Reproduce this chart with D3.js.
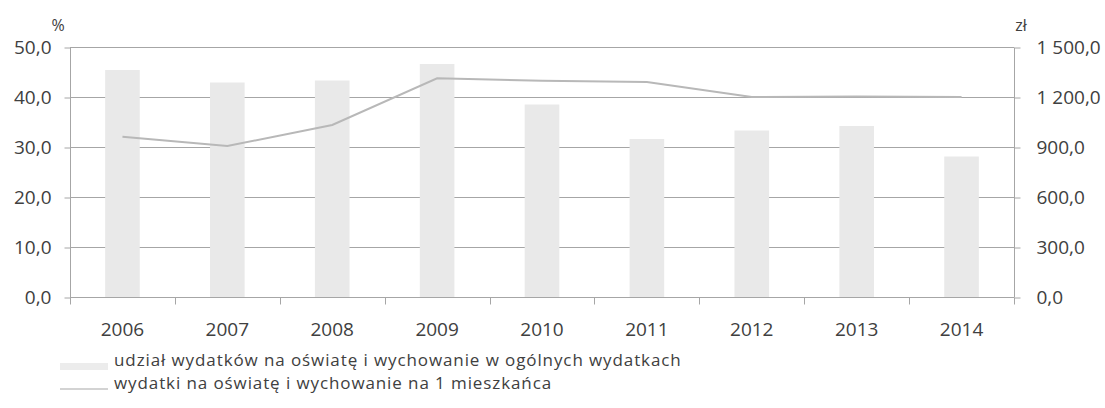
<!DOCTYPE html>
<html>
<head>
<meta charset="utf-8">
<script src="https://cdn.jsdelivr.net/npm/d3@7"></script>
<style>
  html, body { margin: 0; padding: 0; background: #fff; }
  svg text { font-family: 'Open Sans', 'Noto Sans', sans-serif; fill: #404040; }
</style>
</head>
<body>
<svg id="chart" width="1105" height="408"></svg>
<script>
'use strict';

var years = ['2006', '2007', '2008', '2009', '2010', '2011', '2012', '2013', '2014'];
var shareValues = [45.4, 42.9, 43.3, 46.6, 38.5, 31.6, 33.3, 34.2, 28.1];
var perCapitaValues = [961, 906, 1032, 1312, 1297, 1290, 1200, 1203, 1200];
var leftTicks = [0, 10, 20, 30, 40, 50];
var rightTicks = [0, 300, 600, 900, 1200, 1500];
var legendLabels = [
  'udział wydatków na oświatę i wychowanie w ogólnych wydatkach',
  'wydatki na oświatę i wychowanie na 1 mieszkańca'
];

(function() {
  var svg = d3.select('#chart');
  var plotLeft = 70, plotRight = 1014, plotTop = 47, plotBottom = 297;

  var x = d3.scaleBand().domain(years).range([plotLeft, plotRight]).paddingInner(0.67).paddingOuter(0.335);
  var xCat = d3.scaleBand().domain(years).range([plotLeft, plotRight]);
  var yLeft = d3.scaleLinear().domain([0, 50]).range([plotBottom, plotTop]);
  var yRight = d3.scaleLinear().domain([0, 1500]).range([plotBottom, plotTop]);

  function fmt(v) {
    // polish style: space as thousands separator, comma decimal
    var s = d3.format(',.1f')(v);
    return s.replace(/,/g, ' ').replace('.', ',');
  }

  // gridlines
  svg.append('g').selectAll('line').data(leftTicks.slice(1)).enter().append('line')
    .attr('x1', plotLeft).attr('x2', plotRight)
    .attr('y1', function(d) { return yLeft(d) + 0.5; }).attr('y2', function(d) { return yLeft(d) + 0.5; })
    .attr('stroke', '#a6a6a6').attr('stroke-width', 1);

  // bars
  svg.append('g').selectAll('rect').data(years).enter().append('rect')
    .attr('x', function(d) { return x(d); })
    .attr('width', x.bandwidth())
    .attr('y', function(d, i) { return yLeft(shareValues[i]); })
    .attr('height', function(d, i) { return plotBottom - yLeft(shareValues[i]); })
    .attr('fill', '#e9e9e9');

  // left axis
  var leftAxis = d3.axisLeft(yLeft).tickValues(leftTicks).tickSize(6).tickPadding(13).tickFormat(fmt);
  var gl = svg.append('g').attr('transform', 'translate(' + (plotLeft + 0.5) + ',0.5)').call(leftAxis);
  gl.select('.domain').attr('stroke', '#a6a6a6').attr('d', 'M0,' + plotTop + 'V' + plotBottom);
  gl.selectAll('.tick line').attr('stroke', '#a6a6a6');
  gl.selectAll('.tick text').attr('font-size', '19px').attr('fill', '#404040');

  // right axis
  var rightAxis = d3.axisRight(yRight).tickValues(rightTicks).tickSize(6).tickPadding(16).tickFormat(fmt);
  var gr = svg.append('g').attr('transform', 'translate(' + (plotRight + 0.5) + ',0.5)').call(rightAxis);
  gr.select('.domain').attr('stroke', '#a6a6a6').attr('d', 'M0,' + plotTop + 'V' + plotBottom);
  gr.selectAll('.tick line').attr('stroke', '#a6a6a6');
  gr.selectAll('.tick text').attr('font-size', '19px').attr('fill', '#404040');
  gl.attr('font-family', null);
  gr.attr('font-family', null);

  // x axis
  var gx = svg.append('g').attr('transform', 'translate(0,' + (plotBottom + 0.5) + ')');
  gx.append('line').attr('x1', plotLeft).attr('x2', plotRight).attr('stroke', '#a6a6a6');
  gx.selectAll('line.tk').data(d3.range(years.length + 1)).enter().append('line').attr('class', 'tk')
    .attr('x1', function(i) { return Math.round(plotLeft + i * xCat.step()) + 0.5; })
    .attr('x2', function(i) { return Math.round(plotLeft + i * xCat.step()) + 0.5; })
    .attr('y1', 0).attr('y2', 7).attr('stroke', '#a6a6a6');
  gx.selectAll('text').data(years).enter().append('text')
    .attr('x', function(d) { return xCat(d) + xCat.bandwidth() / 2; })
    .attr('y', 38).attr('text-anchor', 'middle').attr('font-size', '19px')
    .text(function(d) { return d; });

  // line series
  var line = d3.line()
    .x(function(d, i) { return xCat(years[i]) + xCat.bandwidth() / 2; })
    .y(function(d) { return yRight(d); });
  svg.append('path').datum(perCapitaValues).attr('d', line)
    .attr('fill', 'none').attr('stroke', '#b8b8b8').attr('stroke-width', 2);

  // unit labels
  svg.append('text').attr('x', 58).attr('y', 31).attr('text-anchor', 'middle').attr('font-size', '16px').text('%');
  svg.append('text').attr('x', 1021).attr('y', 31).attr('text-anchor', 'middle').attr('font-size', '16px').text('zł');

  // legend
  var legend = svg.append('g');
  legend.append('rect').attr('x', 60).attr('y', 363).attr('width', 48).attr('height', 7).attr('fill', '#ececec');
  legend.append('line').attr('x1', 60).attr('x2', 108).attr('y1', 389).attr('y2', 389)
    .attr('stroke', '#c4c4c4').attr('stroke-width', 1.5);
  legend.selectAll('text').data(legendLabels).enter().append('text')
    .attr('x', 114).attr('y', function(d, i) { return 366 + i * 23; })
    .attr('font-size', '17px').attr('letter-spacing', '0.9px').attr('fill', '#333')
    .text(function(d) { return d; });
})();
</script>
</body>
</html>
